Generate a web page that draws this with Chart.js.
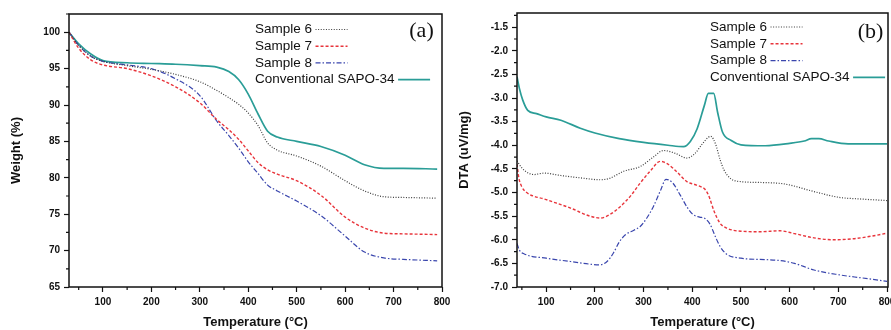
<!DOCTYPE html>
<html>
<head>
<meta charset="utf-8">
<script src="https://cdn.jsdelivr.net/npm/chart.js@4.4.0/dist/chart.umd.min.js"></script>
<style>
  html, body { margin: 0; padding: 0; background: #fff; }
  #wrap { position: relative; width: 891px; height: 330px; overflow: hidden; background: #fff; }
  #tga { position: absolute; left: 0; top: 0; }
  #dta { position: absolute; left: 445px; top: 0; }
</style>
</head>
<body>
<div id="wrap">
  <canvas id="tga" width="460" height="330" style="width:460px;height:330px"></canvas>
  <canvas id="dta" width="446" height="330" style="width:446px;height:330px"></canvas>
</div>
<script>
const FONT = "'Liberation Sans', Arial, sans-serif";
Chart.defaults.font.family = FONT;
Chart.defaults.color = '#111';
Chart.defaults.animation = false;

// ---- data ----
const seriesNames = ['Sample 6', 'Sample 7', 'Sample 8', 'Conventional SAPO-34'];

// (a) TGA, weight %
const tgaTemp    = [30, 50, 75, 100, 150, 200, 250, 300, 335, 360, 380, 400, 420, 440, 460, 500, 550, 600, 640, 680, 720, 790];
const tgaSample6 = [100, 98.2, 96.7, 96.0, 95.4, 94.9, 94.2, 93.2, 92.0, 91.0, 90.1, 88.9, 87.2, 84.8, 83.8, 83.0, 81.6, 79.6, 78.2, 77.4, 77.3, 77.2];
const tgaSample7 = [100, 97.8, 96.2, 95.5, 95.0, 94.0, 92.5, 90.3, 88.0, 86.6, 85.3, 83.7, 82.1, 81.1, 80.5, 79.6, 77.6, 74.6, 73.1, 72.4, 72.3, 72.2];
const tgaSample8 = [100, 98.2, 96.7, 96.0, 95.5, 95.0, 93.6, 91.3, 87.8, 85.8, 84.1, 82.2, 80.6, 79.0, 78.2, 76.8, 74.8, 72.0, 69.8, 69.0, 68.8, 68.6];
const tgaSapo    = [100, 98.4, 97.0, 96.1, 95.8, 95.7, 95.6, 95.4, 95.2, 94.6, 93.5, 91.5, 88.8, 86.4, 85.6, 85.0, 84.3, 83.1, 81.8, 81.3, 81.3, 81.2];

// (b) DTA, uV/mg
const dta6Temp = [40, 50, 62, 75, 95, 130, 170, 211, 230, 259, 293, 320, 341, 365, 389, 405, 420, 438, 448, 457, 465, 478, 500, 550, 590, 650, 700, 750, 800];
const dta6     = [-4.33, -4.48, -4.58, -4.62, -4.59, -4.64, -4.69, -4.73, -4.70, -4.55, -4.45, -4.25, -4.11, -4.17, -4.27, -4.18, -3.98, -3.81, -3.98, -4.30, -4.52, -4.70, -4.77, -4.79, -4.82, -4.98, -5.10, -5.14, -5.17];
const dta7Temp = [40, 44, 50, 60, 100, 150, 190, 211, 230, 252, 275, 293, 315, 334, 350, 370, 389, 405, 416, 425, 433, 445, 457, 470, 500, 540, 580, 610, 650, 690, 730, 770, 800];
const dta7     = [-4.40, -4.70, -4.88, -5.00, -5.15, -5.33, -5.50, -5.54, -5.47, -5.30, -5.05, -4.80, -4.53, -4.34, -4.40, -4.58, -4.77, -4.83, -4.87, -4.92, -5.05, -5.40, -5.65, -5.75, -5.82, -5.83, -5.81, -5.87, -5.96, -6.00, -5.98, -5.92, -5.86];
const dta8Temp = [40, 45, 55, 100, 150, 211, 225, 238, 250, 262, 280, 293, 306, 320, 335, 346, 360, 375, 390, 402, 415, 426, 437, 446, 457, 470, 500, 550, 580, 610, 650, 700, 750, 800];
const dta8     = [-6.08, -6.22, -6.30, -6.39, -6.46, -6.53, -6.46, -6.28, -6.05, -5.90, -5.80, -5.72, -5.55, -5.30, -4.95, -4.72, -4.80, -5.05, -5.32, -5.47, -5.52, -5.55, -5.68, -5.90, -6.14, -6.30, -6.39, -6.42, -6.44, -6.50, -6.64, -6.74, -6.81, -6.88];
const dtaSTemp = [40, 45, 52, 62, 80, 100, 130, 170, 200, 250, 300, 350, 382, 396, 410, 425, 433, 444, 452, 462, 480, 500, 550, 600, 630, 645, 660, 680, 720, 760, 800];
const dtaSapo  = [-2.55, -2.80, -3.05, -3.26, -3.33, -3.40, -3.47, -3.64, -3.74, -3.86, -3.94, -4.00, -4.03, -3.92, -3.65, -3.15, -2.90, -2.90, -3.30, -3.72, -3.90, -3.99, -4.01, -3.96, -3.91, -3.86, -3.86, -3.91, -3.97, -3.97, -3.97];

// line styles, same order as seriesNames
const STYLES = [
  { color: '#3c3c3c', dash: [1, 1.6], width: 1.2 },
  { color: '#e8343b', dash: [3, 2], width: 1.4 },
  { color: '#3a46ad', dash: [5, 2, 1.5, 2], width: 1.2 },
  { color: '#2a9d97', dash: [], width: 1.7 },
];

const pts = (xs, ys) => xs.map((x, i) => ({ x, y: ys[i] }));

function makeDatasets(pairs) {
  return pairs.map(([xs, ys], i) => ({
    label: seriesNames[i],
    data: pts(xs, ys),
    borderColor: STYLES[i].color,
    borderDash: STYLES[i].dash,
    borderWidth: STYLES[i].width,
    pointRadius: 0,
    fill: false,
    cubicInterpolationMode: 'monotone',
  }));
}

// ---- plugins ----
const framePlugin = {
  id: 'frame',
  afterDraw(chart) {
    const { ctx, chartArea: a } = chart;
    ctx.save();
    ctx.strokeStyle = '#111';
    ctx.lineWidth = 1.5;
    ctx.strokeRect(a.left, a.top, a.right - a.left, a.bottom - a.top);
    ctx.restore();
  },
};

const minorTicks = {
  id: 'minorTicks',
  afterDraw(chart, args, opts) {
    const { ctx, chartArea: a, scales } = chart;
    ctx.save();
    ctx.strokeStyle = '#111';
    ctx.lineWidth = 1.2;
    ctx.beginPath();
    for (const id of ['x', 'y']) {
      const s = scales[id];
      const step = opts[id];
      const major = s.options.ticks.stepSize;
      for (let v = Math.ceil(s.min / step) * step; v <= s.max + 1e-9; v += step) {
        const r = v / major;
        if (Math.abs(r - Math.round(r)) < 1e-6) continue;
        const p = s.getPixelForValue(v);
        if (id === 'x') { ctx.moveTo(p, a.bottom); ctx.lineTo(p, a.bottom + 3); }
        else { ctx.moveTo(a.left, p); ctx.lineTo(a.left - 3, p); }
      }
    }
    ctx.stroke();
    ctx.restore();
  },
};

const keyPlugin = {
  id: 'keyBox',
  afterDraw(chart, args, opts) {
    const { ctx } = chart;
    ctx.save();
    ctx.font = `13.5px ${FONT}`;
    ctx.textBaseline = 'middle';
    ctx.textAlign = 'left';
    chart.data.datasets.forEach((ds, i) => {
      const y = opts.y + i * opts.step;
      ctx.fillStyle = '#111';
      ctx.fillText(ds.label, opts.x, y);
      const x0 = opts.x + ctx.measureText(ds.label).width + 3.5;
      ctx.strokeStyle = ds.borderColor;
      ctx.lineWidth = ds.borderWidth;
      ctx.setLineDash(ds.borderDash);
      ctx.beginPath();
      ctx.moveTo(x0, y);
      ctx.lineTo(x0 + 32, y);
      ctx.stroke();
    });
    ctx.setLineDash([]);
    ctx.fillStyle = '#111';
    ctx.font = "22px 'Liberation Serif', 'Times New Roman', serif";
    ctx.textAlign = 'center';
    ctx.fillText(opts.tag, opts.tagX, opts.tagY);
    ctx.restore();
  },
};

// ---- panel builder ----
function makePanel(canvasId, datasets, cfg) {
  return new Chart(document.getElementById(canvasId), {
    type: 'line',
    data: { datasets },
    plugins: [framePlugin, minorTicks, keyPlugin],
    options: {
      responsive: false,
      layout: { padding: cfg.padding },
      plugins: {
        legend: { display: false },
        tooltip: { enabled: false },
        minorTicks: cfg.minor,
        keyBox: cfg.key,
      },
      scales: {
        x: {
          type: 'linear',
          min: cfg.xMin, max: cfg.xMax,
          border: { display: false },
          grid: { drawOnChartArea: false, drawTicks: true, tickLength: 5, tickColor: '#111', tickWidth: 1.2 },
          ticks: {
            stepSize: 100, includeBounds: false, padding: 4, maxRotation: 0, autoSkip: false,
            font: { size: 10, weight: 'bold' }, color: '#111',
          },
          title: {
            display: true, text: 'Temperature (°C)', color: '#111',
            font: { size: 13, weight: 'bold' }, padding: { top: 0, bottom: 0 },
          },
          afterFit(s) { s.height = 43; s.paddingLeft = 0; s.paddingRight = 0; },
        },
        y: {
          min: cfg.yMin, max: cfg.yMax,
          border: { display: false },
          grid: { drawOnChartArea: false, drawTicks: true, tickLength: 5, tickColor: '#111', tickWidth: 1.2 },
          ticks: {
            stepSize: cfg.yStep, includeBounds: false, padding: 4, autoSkip: false,
            font: { size: 10, weight: 'bold' }, color: '#111',
            callback: cfg.yFmt,
          },
          title: {
            display: true, text: cfg.yTitle, color: '#111',
            font: { size: 13, weight: 'bold' }, padding: { top: cfg.yTitlePad, bottom: 0 },
          },
          afterFit(s) { s.width = cfg.yWidth; s.paddingTop = 0; s.paddingBottom = 0; },
        },
      },
    },
  });
}

makePanel('tga', makeDatasets([
  [tgaTemp, tgaSample6], [tgaTemp, tgaSample7], [tgaTemp, tgaSample8], [tgaTemp, tgaSapo],
]), {
  padding: { left: 0, top: 14, right: 18, bottom: 0 },
  xMin: 30, xMax: 800,
  yMin: 65, yMax: 102.5, yStep: 5, yFmt: v => v,
  yTitle: 'Weight (%)', yTitlePad: 9, yWidth: 69,
  minor: { x: 50, y: 2.5 },
  key: { x: 255, y: 29.5, step: 16.7, tag: '(a)', tagX: 421.5, tagY: 31 },
});

makePanel('dta', makeDatasets([
  [dta6Temp, dta6], [dta7Temp, dta7], [dta8Temp, dta8], [dtaSTemp, dtaSapo],
]), {
  padding: { left: 0, top: 13, right: 3, bottom: 0 },
  xMin: 40, xMax: 802,
  yMin: -7.0, yMax: -1.2, yStep: 0.5, yFmt: v => v.toFixed(1),
  yTitle: 'DTA (uV/mg)', yTitlePad: 12, yWidth: 72,
  minor: { x: 50, y: 0.25 },
  key: { x: 265, y: 27, step: 16.8, tag: '(b)', tagX: 425.5, tagY: 32 },
});
</script>
</body>
</html>
